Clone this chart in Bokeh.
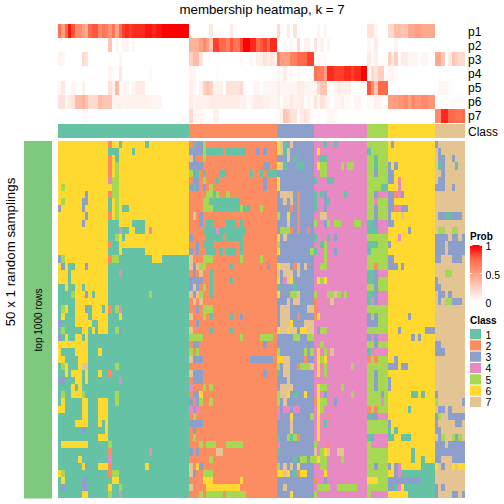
from math import pi
from bokeh.embed import file_html
from bokeh.models import ColumnDataSource, Range1d
from bokeh.plotting import figure
from bokeh.resources import INLINE
from bokeh.core.properties import value

CLASS_COLORS = {1: "#66C2A5", 2: "#FC8D62", 3: "#8DA0CB", 4: "#E78AC3", 5: "#A6D854", 6: "#FFD92F", 7: "#E5C494"}
CLASS_SIZES = [39, 26, 11, 16, 6, 14, 9]
STRIP_NAMES = ["p1", "p2", "p3", "p4", "p5", "p6", "p7"]

P1 = "0:.7 1:.5 2:.75 3:.95 4:.8 5:.6 6:.6 7:.5 8:.4 9:.75 10:.8 11:.8 12:.6 13:.7 14:.65 15:.55 16:.7 17:.45 18:.75 19:.85 20:.9 21:.85 22:.9 23:.9 24:.9 25:.9 26:.95 27:.95 28:.9 29:.95 30:.95 31-38:1 45:.12 51:.1 65:.2 68:.1 70:.15 77:.05 79:.05 92:.15 93:.15 94:.05 98:.2 99:.2 100:.35 101:.35 102:.3 103:.3 104:.45 105:.45 106:.5 107:.5 108-111:.45"
P2 = "15:.3 17:.05 19:.05 20:.05 22:.05 39-41:.4 42:.5 43:.6 44:.5 45:.3 46:.85 47:.85 48:.75 49:.75 50:.65 51:.8 52:.7 53:.7 54:.85 55:1 56:1 57:.9 58:.9 59:.75 60:.8 61:.85 62:.75 63:.9 64:.9 69:.05 71:.2 73:.07 74:.07 76:.15 78:.07 80:.05 92:.05 94:.1 100:.05"
P3 = "0:.07 1:.05 7:.2 8:.15 18:.05 39:.25 40:.35 41:.35 42:.15 54:.03 57:.05 59:.08 60:.08 61:.15 62:.1 63:.15 64:.08 65:.65 66:.5 67:.5 68:.5 69:.65 70:.65 71:.75 72:.75 73:.75 74:.85 75:.85 77:.03 79:.03 92:.1 93:.03 94:.08 98:.25 99:.1 100:.25 101:.03 102:.1 103:.1 104:.05 105:.05 106:.05 108:.05 109:.05 112:.45 113:.45 114:.3 116:.1 117:.3 118:.25 119:.2 120:.2"
P4 = "15:.05 16:.03 18:.12 27:.03 39:.05 40:.05 47:.02 65:.05 66:.02 67:.1 68:.02 69:.05 71:.02 76:.7 77:.65 78:.65 79:.5 80:.9 81:.9 82:.85 83:.85 84:.85 85:.9 86:.9 87:.85 88:.9 89:.9 90:1 91:1 92:.05 93:.2 94:.15 95:.25 96:.25 97:.02 98:.05 99:.05 100:.02"
P5 = "0:.05 1:.12 4:.05 5:.02 7:.07 15:.15 16:.07 17:.35 18:.03 19:.05 20:.05 22:.05 23-25:.1 39:.08 40:.05 42:.08 43:.25 44:.3 45:.25 46:.05 47:.08 48:.08 50-53:.15 54:.2 55:.02 58:.05 59:.05 61-64:.05 65:.1 66:.05 67-70:.05 71:.1 72:.1 73-75:.05 76:.05 77:.2 78:.3 79:.3 80:.02 82:.05 83:.1 84:.08 85:.08 86:.08 92:.8 93:.6 94:.3 95:.75 96:.75 97:.75 113-115:.05 116:.02"
P6 = "0:.15 1:.15 2:.05 3:.1 4:.15 5:.35 6:.35 7:.4 8:.3 9:.2 10:.2 11:.2 12:.35 13:.3 14:.3 15:.3 16:.05 17:.07 18:.07 19:.05 20-27:.07 28-30:.05 39:.1 40:.05 41-44:.07 45-53:.1 54:.05 55:.08 56:.03 57:.05 58-60:.1 61:.08 62:.08 63:.05 64:.05 65:.08 66:.02 67:.08 68:.05 69:.12 70:.07 71:.07 72:.1 73:.02 74:.05 75:.02 76:.15 77:.05 78:.15 79:.1 80:.05 82:.05 83:.05 84:.08 85:.03 86:.03 88:.05 89:.05 92:.03 93:.03 94:.07 95:.07 96:.03 98:.5 99:.5 100:.5 101:.55 102:.55 103:.6 104:.5 105:.6 106:.55 107:.55 108:.6 109:.6 110:.55 111:.55 117-120:.02"
P7 = "7:.03 8:.03 39:.2 40:.05 41:.05 42:.05 46:.07 47:.07 65:.02 66:.08 67:.3 68:.25 69:.15 70:.15 72:.1 73:.15 74:.1 75:.03 77:.02 80:.05 81:.05 82:.03 112:.6 113:.6 114:.9 115:.9 116:.75 117:.75 118:.7 119:.7 120:.75"

ROWS = [
"0-14:6 15:2 16-17:6 19-25:6 27-38:6 40:1 41-42:3 43:5 65:6 66:7 67:1 69:7 79:1 82:1 99:3 112:3",
"0-14:6 18-21:6 23-38:6 39-42:3 43:5 44-48:1 50-55:1 59:3 61:3 65:6 66:7 67:1 68:7 77:6 92:1 113:3",
"0-14:6 15:2 16:6 18-38:6 39:7 40:3 43:5 68:7 70:1 78-79:1 94:1 113-114:3 117:3",
"0-14:6 15:2 16:6 17:5 18-38:6 39-42:3 61-62:3 65:6 66:7 67:1 71-72:1 77:6 78-79:5 84:5 86-87:5 94:1 98:3 100:3 113:1 114:3 118:1",
"0-16:6 15:2 17:5 18-38:6 39:5 40:3 41:1 43:1 48-49:1 57:1 60:1 62-64:1 78-79:5 94:3 98-99:3 114:3",
"0-14:6 15:4 16-17:5 18-38:6 40-41:3 43:5 47:1 61:3 65:6 76:1 80-81:1 98-99:3 101:4 113-114:3",
"0:6 1:5 2-15:6 16-17:5 18-38:6 39:3 40:1 41:3 43:3 45:5 61:3 65:6 96-97:1 101:4 112-114:3 117:3",
"0-7:6 8:3 9-14:6 15:2 16-17:5 18-38:6 44-45:5 46:1 47:5 50:5 66-69:7 71:2 76:1 78:1 79:3 85:1 94:3 95-97:4 98-99:3 100:2 101:4 102:3",
"0:6 1:5 2-6:6 7-8:3 9-14:6 16:6 17:5 18-38:6 43-44:5 45-53:1 67:7 69:7 71:2 76:1 79:3 80:1 94:4 98-99:3",
"0:3 1-6:6 7:3 8-14:6 16:6 17:5 18:6 21-38:6 43-45:5 46-53:1 54:5 55-56:1 60:5 69:2 71:2 76:1 79:3 94:3 98-99:3 100:2 101:4 102-103:3",
"0-7:6 8:3 9-14:6 15:2 16:6 17:5 18-38:6 40:7 42:3 65:5 68:6 71:2 78-79:7 94:3 98:3 102:7 113-114:3 115-116:1 117-119:3",
"0-6:6 7:3 8-14:6 18-21:6 26-38:6 42:3 44-45:1 50-52:1 54:1 68:7 71:2 76:5 79:3 80:5 82-83:5 88-89:5 92-93:1 94:3 95-97:4 98-99:3",
"0-14:6 18:4 21-22:6 26:6 27:4 28-38:6 43-46:1 47:4 48-55:1 66-68:5 69:2 71:2 74:2 92-94:1 95-97:4 104:3 113-114:5 117-118:5",
"0-14:6 17:5 18:6 20-38:6 39:3 44-48:1 50-54:1 65:6 67:7 76:1 80:1 82:3 101:4 112-115:3 117-118:3 120:3",
"0-14:6 15:2 18-38:6 41:3 43-45:1 54:1 65:5 78:1 79:5 92-94:1 98:3 112-114:3 116-120:3",
"0-14:6 18:6 26-38:6 39:3 41:3 44-46:1 48:1 50-52:1 54:1 65:6 75:5 76:1 79:5 82:3 92:1 112-114:3 116-120:3",
"0:3 1:5 2-14:6 15:2 16-17:5 28-30:6 39:7 43-45:5 54:5 60:5 79:5 98-99:3 112-113:3 117-119:3",
"0:6 1:3 2:6 5-7:6 8:3 9-14:6 39:7 40:3 41:7 42-43:5 51:1 62:3 65:6 66-68:7 70:2 71:7 73:7 78-79:5 94:2 98-100:3 102:3",
"0-2:6 4-14:6 18:4 40:3 42:7 45:1 65:7 67-69:7 71:7 92-93:1 94:3 95-97:4 115-116:5",
"0-2:6 4-14:6 39-42:3 45:1 51:1 65:6 67:4 68:7 69:6 77:6 78:5 79:6 92-93:1 94:3 112:3",
"2:6 5-6:6 8-14:6 39:3 40:7 41:3 43:5 45:1 65:1 70:1 94:3 112-113:3",
"4:5 5-7:6 8:3 9:6 11-14:6 27:5 39:7 40:3 41:7 42:5 45:1 65:6 69-70:5 71:7 76:5 80-81:5 82:7 83:5 85:5 92-93:1 94:3 95-97:4 113-114:3 116:3",
"5-14:6 40:7 42:7 68:7 70-71:7 76:2 81:7 92:1 93:4 94:3 95-97:4 113:3 115-116:5 117-119:3",
"1:5 2:6 5-7:6 8:3 10-12:6 14:6 15:2 17:5 18:4 41:3 43-45:5 66-68:7 74-75:7 76:2",
"1:6 5-8:6 10-14:6 18:6 39:7 43:5 45:1 51:1 54:3 66-68:7 71:2 76:2 77:6 92:3 94:3 104:3",
"0:3 5-9:6 12-14:6 41:3 66-68:7 69:6 73-75:7 92-94:3",
"1:5 7-8:6 10:6 12-14:6 17:5 18:3 39:7 45:1 51:1 65:6 66-67:7 68:6 69-70:7 72-73:6 74-75:7 77:3 78-79:5 101:3 109-111:3",
"0:3 2:6 5-6:6 8:6 39-42:5 54:5 60-63:5 70-71:5 74-75:5 92:3 93:4 94:3 95-97:4 105:3 107:3",
"0-8:6 40-41:3 61:3 78:5 94:3 112-113:3",
"0:6 5-8:6 12:6 39:5 41:5 65:5 73:5 75:5 77:6 79:5 81:7 92:1 93-97:4 112-114:3",
"0-1:6 6-8:6 39:7 40-42:3 57-63:3 65-66:6 67-68:7 73:2 77:6 78:5 79:6 92:2 94:2 100:3",
"1:5 2:6 6:6 7-8:7 17:5 65:5 67-68:7 71:2 72-74:5 75:7 77:6 79:5 87:5 98-100:3 102-103:3",
"2:6 4-6:6 8:6 12:6 15:2 39:7 40-42:3 61:3 65:1 67-68:7 77:6 79:5 94:3",
"0-1:3 5-6:6 8:6 18:4 40-42:3 68:7 94:3 98:3",
"4:6 6:6 39:4 43:5 45:5 66-69:7 77:6 78-79:5 84:5 94:3 98:3",
"1:5 4-6:6 7:5 17:5 40-41:3 42:6 65:5 66-67:7 68:6 70:1 73:6 77:6 79:3 87:5 96:3 105-106:1 108:1 112:3",
"1:6 7-8:6 12-14:6 17:5 39:3 41:3 42:5 45:5 65:5 67:7 76:2 77:6 78-79:5 82:3 96:4 112:5 120:3",
"0-1:6 7-8:6 12-14:6 39:4 40:3 41:4 65:4 67-68:4 70-71:4 77:6 78:5 92:2 94:2 104:1 113-114:3 116:3",
"7-8:6 12-14:6 40:5 65:4 69:6 75:5 77:6 80:2 92:1 93-94:3 95-97:4 112:3 113:5 116-120:3",
"5-8:6 12:6 14:6 39-42:3 69:7 77:6 79:1 98:3 112:3 118-119:3",
"7:3 14:6 40:3 69:7 77:6 98:1 100:1 112-113:3",
"12-14:6 40:5 65:1 68:5 69:1 70:5 71:2 77:6 92-93:1 94-97:4 98-99:1 102-104:1 113:3 114:5 117:5 118:3 119:5",
"1-8:6 15:5 42:5 44-46:5 50-54:5 65:4 76:5 80:2 93-97:4 112-114:3 116-120:3",
"15:2 27:4 39:3 41:3 47-48:7 65:1 76:7 78:5 79:6 80:7 83-84:7 105:1 112-120:3",
"6:6 15:4 45:5 70:1 72-73:5 75:5 76:5 77:6 78-79:5 84:5 105:1 108:1 112-113:3 117-120:3",
"7:6 8:3 12-14:6 15:2 26:6 39:7 41:6 42:3 65:5 67:7 69:7 71:6 78-79:5 94:3 98:3 100:3 101:4 108-111:1 112:6 114:3 117:6 119-120:6",
"0:6 1:5 15:2 16-17:5 39:7 40:3 43-45:5 65-66:6 67:7 68:6 70:1 71:2 72-73:6 79:6 100:3 101:4 102-111:1",
"1:6 7-8:3 16-17:6 43-45:6 54:6 76:2 79:3 92-94:6 98-107:3 108-111:1",
"1:3 7-8:3 15:6 18:5 39:7 44-53:6 67:7 77-80:5 83-88:5 98-99:3 100:1 101:4 102:6 103-111:1 112:3 114:3",
"7-8:6 15:5 18:4 42:5 44-48:5 50-55:5 69:6 76:5 93-97:4 98-103:6 104-111:1 112:3 117-118:3 120:3",
]

PROB_TICKS = ["1", "0.5", "0"]
PROB_VALUES = [1, 0.5, 0]
RAMP = [(0, (255, 255, 255)), (.25, (255, 207, 192)), (.5, (255, 158, 129)), (.75, (255, 106, 74)), (1, (255, 0, 0))]


def ramp(v):
    for (a, ca), (b, cb) in zip(RAMP, RAMP[1:]):
        if v <= b:
            t = (v - a) / (b - a)
            return "#%02X%02X%02X" % tuple(round(x + (y - x) * t) for x, y in zip(ca, cb))
    return "#FF0000"


def parse(spec, base, conv):
    out = list(base)
    for tok in spec.split():
        key, val = tok.split(":")
        a, _, b = key.partition("-")
        for c in range(int(a), int(b or a) + 1):
            out[c] = conv(val)
    return out


DEFAULT_CLASS = [i + 1 for i, n in enumerate(CLASS_SIZES) for _ in range(n)]
NCOL = len(DEFAULT_CLASS)

# layout (pixels of the picture)
LEFT, RIGHT = 58.0, 465.0
CW = (RIGHT - LEFT) / NCOL
STRIP_TOP, STRIP_H = 24.0, 14.15
CLASS_TOP, CLASS_BOT = 124.0, 138.0
MAIN_TOP, MAIN_BOT = 141.0, 498.5
RH = (MAIN_BOT - MAIN_TOP) / len(ROWS)
FONT = value("Liberation Sans")

p = figure(width=504, height=504, output_backend="svg", toolbar_location=None,
           x_range=Range1d(0.5, 504.5), y_range=Range1d(504.5, 0.5), min_border=0,
           outline_line_color=None, background_fill_color="white", border_fill_color="white")
p.axis.visible = False
p.grid.visible = False


def xe(i):
    return round(LEFT + i * CW)


def cells(l, r, t, b, c):
    src = ColumnDataSource(dict(l=l, r=r, t=t, b=b, c=c))
    p.quad(left="l", right="r", top="t", bottom="b", fill_color="c", line_color=None, source=src)


# probability strips
l, r, t, b, c = [], [], [], [], []
for k, spec in enumerate([P1, P2, P3, P4, P5, P6, P7]):
    vals = parse(spec, [0.0] * NCOL, float)
    for i, v in enumerate(vals):
        if v > 0:
            l.append(xe(i)); r.append(xe(i + 1))
            t.append(round(STRIP_TOP + k * STRIP_H)); b.append(round(STRIP_TOP + (k + 1) * STRIP_H))
            c.append(ramp(v))
cells(l, r, t, b, c)

# class bar
cells([xe(i) for i in range(NCOL)], [xe(i + 1) for i in range(NCOL)],
      [CLASS_TOP] * NCOL, [CLASS_BOT] * NCOL, [CLASS_COLORS[v] for v in DEFAULT_CLASS])

# main heatmap
l, r, t, b, c = [], [], [], [], []
for k, spec in enumerate(ROWS):
    vals = parse(spec, DEFAULT_CLASS, int)
    for i, v in enumerate(vals):
        l.append(xe(i)); r.append(xe(i + 1))
        t.append(round(MAIN_TOP + k * RH)); b.append(round(MAIN_TOP + (k + 1) * RH))
        c.append(CLASS_COLORS[v])
cells(l, r, t, b, c)

# side bar
p.quad(left=[24], right=[52], top=[MAIN_TOP], bottom=[MAIN_BOT], fill_color="#7FC97F", line_color=None)


def label(x, y, s, size, align="left", angle=0.0, style="normal", color="#000000"):
    p.text(x=[x], y=[y], text=[s], text_font=FONT, text_font_size=size, text_align=align,
           text_baseline="middle", angle=angle, text_font_style=style, text_color=color)


label(262, 9.5, "membership heatmap, k = 7", "13.3px", "center")
for k, n in enumerate(STRIP_NAMES):
    label(468, STRIP_TOP + (k + .5) * STRIP_H + .5, n, "12px")
label(468, (CLASS_TOP + CLASS_BOT) / 2 + .5, "Class", "12px")
label(10, 252, "50 x 1 random samplings", "13.3px", "center", pi / 2)
label(38, 320, "top 1000 rows", "10px", "center", pi / 2)

# probability legend
LEG_L, LEG_R, LEG_T, LEG_B = 470.0, 482.0, 245.0, 302.0
label(470, 236.5, "Prob", "10px", style="bold")
n = 57
cells([LEG_L] * n, [LEG_R] * n, [LEG_T + i for i in range(n)],
      [LEG_T + i + 1 for i in range(n)], [ramp(1 - i / (n - 1)) for i in range(n)])
for s, v in zip(PROB_TICKS, PROB_VALUES):
    y = LEG_B - (LEG_B - LEG_T) * v
    tick_y = min(max(y, LEG_T + .5), LEG_B - .5)
    p.segment(x0=[LEG_L, LEG_R - 2.4], x1=[LEG_L + 2.4, LEG_R], y0=[tick_y] * 2, y1=[tick_y] * 2, line_color="white", line_width=1)
    label(485.5, y + 1, s, "10.5px")

# class legend
label(470, 320.5, "Class", "10px", style="bold")
for i, (k, col) in enumerate(CLASS_COLORS.items()):
    y = 329 + i * 11.3
    p.quad(left=[470], right=[481], top=[y], bottom=[y + 10.2], fill_color=col, line_color=None)
    label(485.5, y + 5.5, str(k), "10.5px")

open("out.html", "w").write(file_html(p, INLINE))
